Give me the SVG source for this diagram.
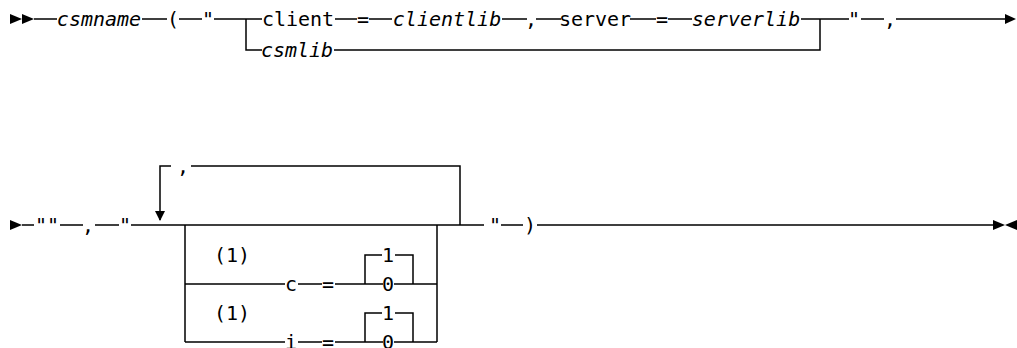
<svg xmlns="http://www.w3.org/2000/svg" width="1017" height="348" viewBox="0 0 1017 348">
<style>
.t{font-family:"DejaVu Sans Mono","Liberation Mono",monospace;font-size:20px;fill:#000;text-anchor:middle}
.i{font-style:italic}
.c{fill:none;stroke:#000;stroke-width:1.5}
.a{fill:#000;stroke:none}
</style>
<rect width="1017" height="348" fill="#fff"/>
<g id="connectors">
<path class="c" d="M34,19H57M142,19H167M179,19H202M214,19H262M246,19V50H262M335,19H357M369,19H392M502,19H527M536,19H561M630,19H656M668,19H692M801,19H849M334,50H820V19M861,19H884M896,19H1006"/>
<polygon class="a" points="10,14 22,19 10,24"/>
<polygon class="a" points="22,14 34,19 22,24"/>
<polygon class="a" points="1005,14 1016,19 1005,24"/>
<path class="c" d="M22,225H34M60,225H83M95,225H119M131,225H484M160,220V166H171M191,166H460V225"/>
<polygon class="a" points="10,220 22,225 10,230"/>
<polygon class="a" points="155,211 165,211 160,221"/>
<path class="c" d="M185,225V342M437,225V342M185,284H285M298,284H322M335,284H383M394,284H437M365,284V255H382M395,255H413V284M185,342H285M298,342H322M335,342H383M394,342H437M365,342V313H382M395,313H413V342"/>
<path class="c" d="M501,225H523M537,225H993"/>
<polygon class="a" points="993,220 1005,225 993,230"/>
<polygon class="a" points="1017,220 1005,225 1017,230"/>
</g>
<g id="n-csmname"><text class="t i" x="99" y="26">csmname</text></g>
<g id="n-lparen"><text class="t" x="173" y="26">(</text></g>
<g id="n-q1"><text class="t" x="208" y="26">"</text></g>
<g id="n-client"><text class="t" x="298" y="26">client</text></g>
<g id="n-eq1"><text class="t" x="363" y="26">=</text></g>
<g id="n-clientlib"><text class="t i" x="447" y="26">clientlib</text></g>
<g id="n-comma1"><text class="t" x="531" y="26">,</text></g>
<g id="n-server"><text class="t" x="595" y="26">server</text></g>
<g id="n-eq2"><text class="t" x="662" y="26">=</text></g>
<g id="n-serverlib"><text class="t i" x="746" y="26">serverlib</text></g>
<g id="n-csmlib"><text class="t i" x="297" y="57">csmlib</text></g>
<g id="n-q2"><text class="t" x="854" y="26">"</text></g>
<g id="n-comma2"><text class="t" x="890" y="26">,</text></g>
<g id="n-qq"><text class="t" x="47" y="232">""</text></g>
<g id="n-comma3"><text class="t" x="88" y="232">,</text></g>
<g id="n-q3"><text class="t" x="125" y="232">"</text></g>
<g id="n-loopcomma"><text class="t" x="183" y="173">,</text></g>
<g id="n-note1"><text class="t" x="232" y="262">(1)</text></g>
<g id="n-c"><text class="t" x="291" y="291">c</text></g>
<g id="n-eq3"><text class="t" x="328" y="291">=</text></g>
<g id="n-c1"><text class="t" x="388" y="262">1</text></g>
<g id="n-c0"><text class="t" x="388" y="291">0</text></g>
<g id="n-note2"><text class="t" x="232" y="320">(1)</text></g>
<g id="n-i"><text class="t" x="291" y="349">i</text></g>
<g id="n-eq4"><text class="t" x="328" y="349">=</text></g>
<g id="n-i1"><text class="t" x="388" y="320">1</text></g>
<g id="n-i0"><text class="t" x="388" y="349">0</text></g>
<g id="n-q4"><text class="t" x="495" y="232">"</text></g>
<g id="n-rparen"><text class="t" x="530" y="232">)</text></g>
</svg>
